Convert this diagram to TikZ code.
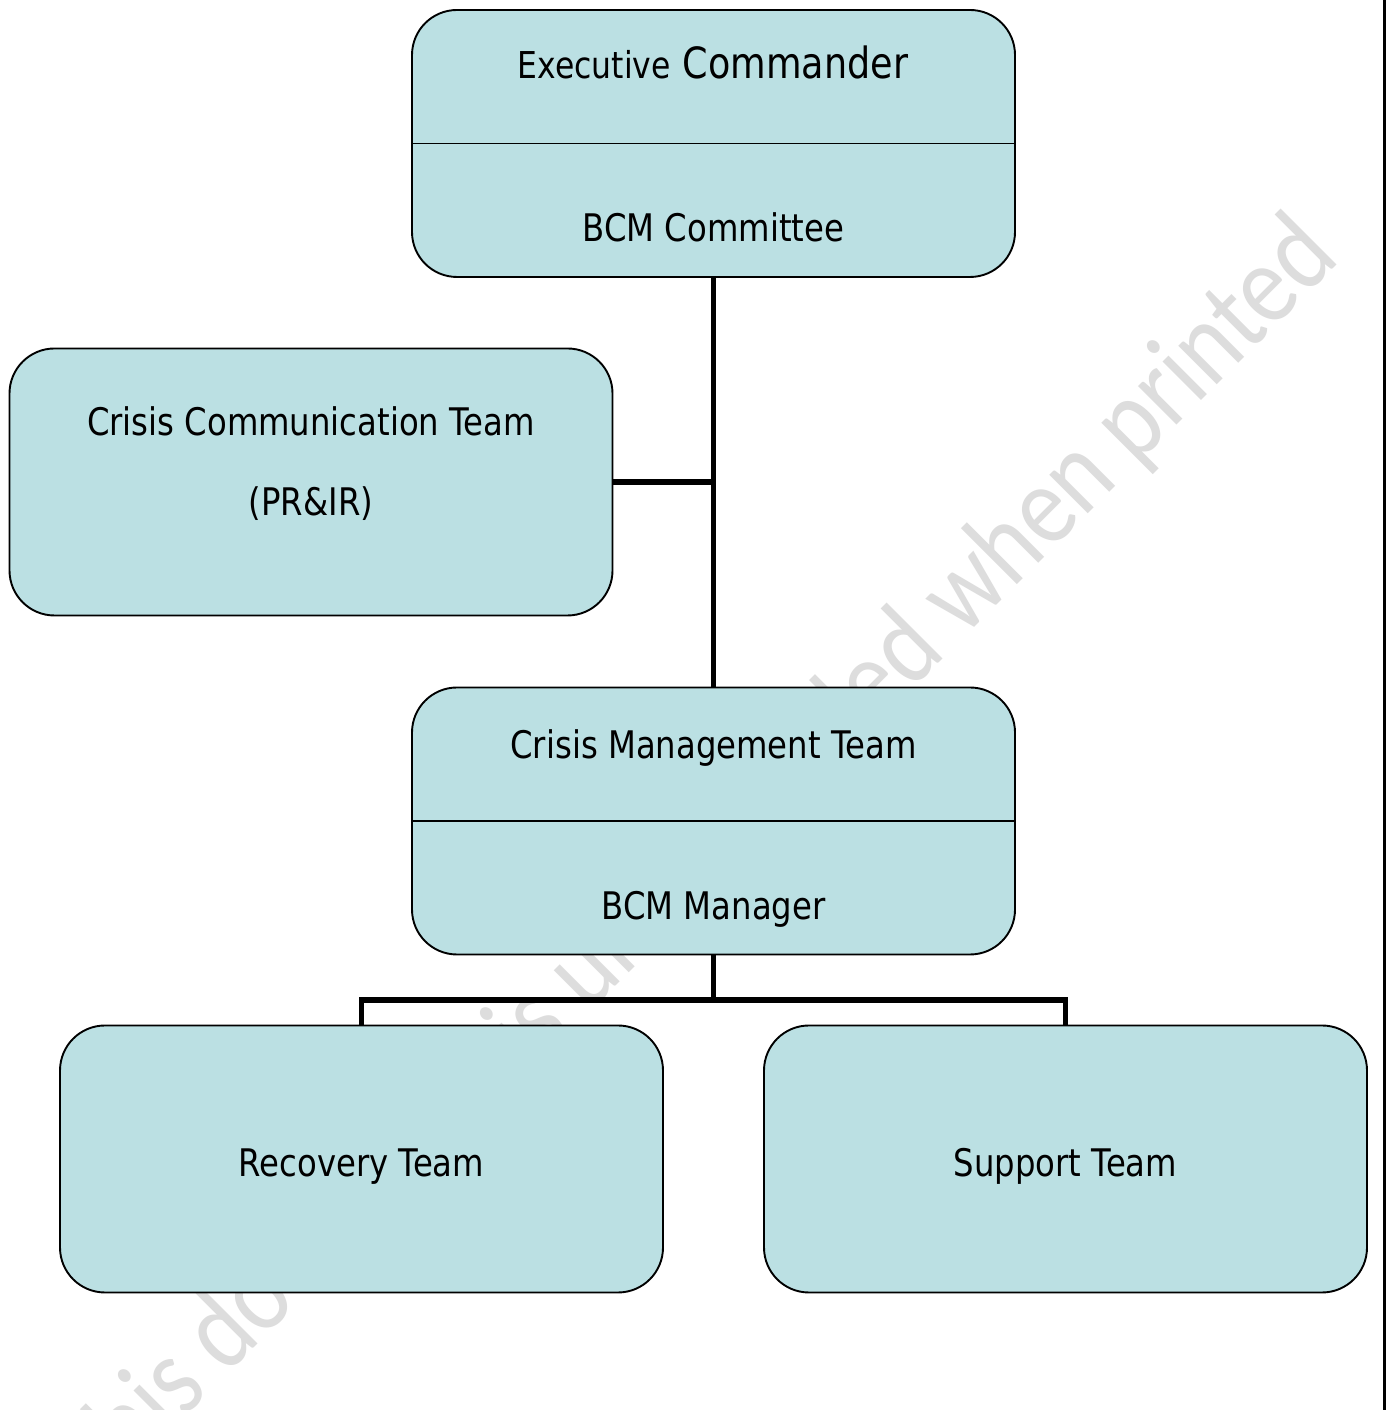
\documentclass[tikz,border=0pt]{standalone}
\usepackage{fontspec}
\setmainfont{DejaVu Sans}[FakeStretch=0.85]
\newfontfamily\wmfont{Carlito}[FakeStretch=0.86]
\definecolor{boxfill}{HTML}{BBE0E3}
\definecolor{wmgray}{HTML}{DDDDDD}
\begin{document}
\begin{tikzpicture}[x=1pt,y=1pt,
  box/.style={draw=black, line width=1.9pt, fill=boxfill, rounded corners=45pt,
    minimum width=603pt, minimum height=267pt, inner sep=0pt},
  lbl/.style={anchor=base, inner sep=0pt, font=\fontsize{38}{46}\selectfont},
  conn/.style={line width=5.5pt},
  divider/.style={line width=1.5pt},
  wmark/.style={rotate=45, anchor=base east, inner sep=0pt, text=wmgray,
    font=\wmfont\fontsize{114}{130}\selectfont}]
\useasboundingbox (0,0) rectangle (1386,1410);
\fill[white] (0,0) rectangle (1386,1410);
% watermark
\begin{scope}
\clip (0,0) rectangle (1386,1410);
\node[wmark] (wm) at (1342,1150) {This document is uncontrolled when printed};
\end{scope}
% boxes
\node[box] (top) at (713.5,1266.5) {};
\node[box] (cct) at (311,928) {};
\node[box] (cmt) at (713.5,589) {};
\node[box] (rec) at (361.5,251) {};
\node[box] (sup) at (1065.5,251) {};
\draw[divider] (top.west) -- (top.east);
\draw[divider] (cmt.west) -- (cmt.east);
% labels
\node[lbl] (exec) at (713,1331) {{\fontsize{37}{44}\selectfont Executive}\hspace{12pt}{\fontsize{43}{50}\selectfont Commander}};
\node[lbl] (bcmc) at (713.5,1168) {BCM Committee};
\node[lbl] (cctl) at (311,974) {Crisis Communication Team};
\node[lbl] (prir) at (311,894) {(PR\&IR)};
\node[lbl] (cmtl) at (713.5,651) {Crisis Management Team};
\node[lbl] (bcmm) at (713.5,490) {BCM Manager};
\node[lbl] (recl) at (361.5,233) {Recovery Team};
\node[lbl] (supl) at (1065.5,233) {Support Team};
% connectors
\coordinate (bus) at (713.5,410);
\draw[conn] (top.south) -- (cmt.north);
\draw[conn] (cct.east) -- (cct.east -| top.south);
\draw[conn] (cmt.south) -- (bus);
\draw[conn] (rec.north) -- (rec.north |- bus) -- (sup.north |- bus) -- (sup.north);
% right page edge
\coordinate (edgeA) at (1384,0);
\coordinate (edgeB) at (1384,1410);
\draw[line width=3pt] (edgeA) -- (edgeB);
\end{tikzpicture}
\end{document}
